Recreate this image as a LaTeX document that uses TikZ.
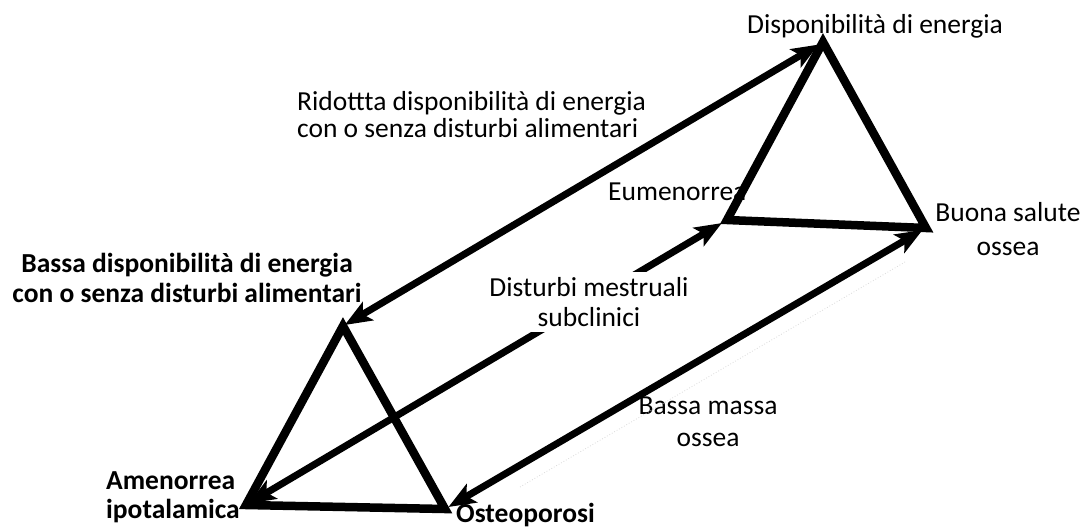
\documentclass[tikz,border=0pt]{standalone}
\usepackage{fontspec}
\setmainfont{Carlito}
\usetikzlibrary{arrows.meta}
\begin{document}
\begin{tikzpicture}[x=1pt,y=-1pt,
  tri/.style={line width=8.5pt,line join=miter,miter limit=20},
  link/.style={line width=7pt,{Stealth[length=27pt,width=21pt,inset=6pt]}-{Stealth[length=27pt,width=21pt,inset=6pt]}},
  lbl/.style={font=\fontsize{27.5}{30}\selectfont,inner sep=0pt},
  blbl/.style={font=\fontsize{27.5}{30}\selectfont\bfseries,inner sep=0pt}]
\useasboundingbox (0,0) rectangle (1084,528);
% vertices
\coordinate (T) at (823,42);
\coordinate (E) at (727,220);
\coordinate (B) at (926,228);
\coordinate (L) at (343,326);
\coordinate (A) at (246,505);
\coordinate (O) at (445,509);
\coordinate (f1) at (520,487);
\coordinate (f2) at (905,262);
% labels under the lines
\node[lbl,anchor=base] (dispo) at (875,33) {Disponibilità di energia};
\node[lbl,anchor=base west] (eum) at (608,200) {Eumenorrea};
\node[lbl,align=left,anchor=west,font=\fontsize{27.5}{27}\selectfont] (rid) at (297,115) {Ridottta disponibilità di energia\\con o senza disturbi alimentari};
\node[lbl,align=center,font=\fontsize{27.5}{34}\selectfont] (buona) at (1008,229) {Buona salute\\ossea};
\node[blbl,align=center] (bassa) at (187,278) {Bassa disponibilità di energia\\con o senza disturbi alimentari};
\node[lbl,align=center,font=\fontsize{27.5}{32}\selectfont] (massa) at (708,422) {Bassa massa\\ossea};
\node[blbl,align=left,anchor=west,font=\fontsize{27.5}{29}\selectfont\bfseries] (amen) at (106,497) {Amenorrea\\ipotalamica};
\node[blbl,anchor=base west] (osteo) at (456,522) {Osteoporosi};
% faint scan line
\draw[gray!30,line width=0.8pt,dotted] (f1) -- (f2);
% triangles
\draw[tri] (T) -- (E) -- (B) -- cycle;
\draw[tri] (L) -- (A) -- (O) -- cycle;
% links
\draw[link,shorten <=2pt,shorten >=5pt] (L) -- (T);
\draw[link,shorten <=3pt,shorten >=6pt] (A) -- (E);
\draw[link,shorten <=4pt,shorten >=4pt] (O) -- (B);
% label over the middle link
\node[lbl,align=center,fill=white,inner xsep=6pt,inner ysep=5pt] (dist) at (589,302) {Disturbi mestruali\\subclinici};
\end{tikzpicture}
\end{document}
